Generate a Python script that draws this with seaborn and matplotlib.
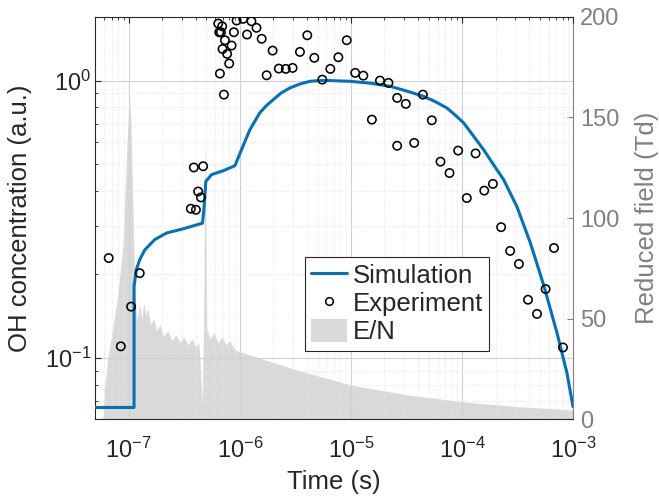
import numpy as np
import pandas as pd
import seaborn as sns
import matplotlib
matplotlib.use("Agg")
import matplotlib.pyplot as plt
from matplotlib.lines import Line2D
from matplotlib.patches import Patch
from matplotlib.ticker import LogLocator, NullFormatter

# ---------------- data ----------------
sim_t = [5.0e-8, 1.116e-7, 1.116e-7, 1.17e-7, 1.256e-7, 1.393e-7, 1.714e-7, 2.19e-7, 3.09e-7,
         4.61e-7, 4.74e-7, 4.94e-7, 5.56e-7, 7.08e-7, 9.02e-7, 1.035e-6, 1.23e-6, 1.51e-6,
         1.73e-6, 2.0e-6, 2.34e-6, 2.82e-6, 3.47e-6, 4.27e-6, 5.26e-6, 6.47e-6, 9.8e-6,
         1.48e-5, 2.24e-5, 3.13e-5, 4.48e-5, 5.71e-5, 7.27e-5, 8.65e-5, 1.03e-4, 1.256e-4,
         1.56e-4, 1.90e-4, 2.36e-4, 3.11e-4, 4.1e-4, 5.4e-4, 7.13e-4, 8.77e-4, 9.93e-4]
sim_c = [0.0662, 0.0662, 0.181, 0.208, 0.226, 0.245, 0.267, 0.282, 0.292,
         0.306, 0.342, 0.433, 0.458, 0.473, 0.493, 0.564, 0.665, 0.765,
         0.812, 0.854, 0.901, 0.941, 0.972, 0.994, 1.0, 1.0, 0.994,
         0.979, 0.954, 0.918, 0.878, 0.840, 0.797, 0.751, 0.704, 0.633,
         0.563, 0.4995, 0.439, 0.351, 0.260, 0.1834, 0.123, 0.088, 0.0667]

exp_t = [6.60e-8, 8.48e-8, 1.05e-7, 1.256e-7, 3.62e-7, 4.02e-7, 3.85e-7, 4.67e-7, 4.21e-7, 4.46e-7,
         6.38e-7, 6.93e-7, 6.52e-7, 6.75e-7, 7.33e-7, 8.42e-7, 6.98e-7, 7.68e-7, 8.01e-7, 6.61e-7,
         7.18e-7, 8.83e-7, 9.34e-7, 1.07e-6, 1.27e-6, 1.41e-6, 1.16e-6, 1.57e-6, 1.97e-6, 1.74e-6,
         2.24e-6, 2.59e-6, 2.98e-6, 3.47e-6, 4.04e-6, 4.67e-6, 5.51e-6, 6.51e-6, 7.69e-6, 9.15e-6,
         1.09e-5, 1.29e-5, 1.54e-5, 1.82e-5, 2.17e-5, 2.60e-5, 3.11e-5, 2.60e-5, 3.70e-5, 4.43e-5,
         5.33e-5, 6.38e-5, 7.69e-5, 9.2e-5, 1.32e-4, 1.10e-4, 1.58e-4, 1.89e-4, 2.24e-4, 2.70e-4,
         3.24e-4, 6.70e-4, 5.63e-4, 3.91e-4, 4.71e-4, 8.07e-4]
exp_c = [0.229, 0.110, 0.153, 0.202, 0.345, 0.342, 0.486, 0.491, 0.398, 0.379,
         1.606, 1.57, 1.494, 1.494, 1.398, 1.338, 1.30, 1.248, 1.152, 1.06,
         0.890, 1.494, 1.647, 1.670, 1.637, 1.55, 1.466, 1.415, 1.283, 1.045,
         1.105, 1.102, 1.111, 1.269, 1.457, 1.208, 1.008, 1.102, 1.214, 1.398,
         1.066, 1.042, 0.723, 1.0, 0.981, 0.866, 0.824, 0.582, 0.596, 0.890,
         0.719, 0.510, 0.464, 0.559, 0.546, 0.377, 0.401, 0.424, 0.296, 0.243,
         0.218, 0.249, 0.177, 0.162, 0.144, 0.109]

en_t = [5.0e-8, 5.5e-8, 5.87e-8, 6.08e-8, 6.51e-8, 7.23e-8, 8.01e-8, 8.88e-8, 9.2e-8, 9.69e-8,
        1.01e-7, 1.043e-7, 1.087e-7, 1.132e-7, 1.180e-7, 1.256e-7, 1.309e-7, 1.365e-7, 1.423e-7,
        1.483e-7, 1.578e-7, 1.679e-7, 1.786e-7, 1.900e-7, 2.065e-7, 2.244e-7, 2.439e-7, 2.651e-7,
        2.881e-7, 3.13e-7, 3.40e-7, 3.70e-7, 4.02e-7, 4.28e-7, 4.46e-7, 4.60e-7, 4.74e-7, 4.84e-7,
        4.94e-7, 5.05e-7, 5.37e-7, 5.84e-7, 6.34e-7, 6.89e-7, 7.48e-7, 8.13e-7, 9.02e-7,
        1.0e-6, 3.16e-6, 1.0e-5, 3.16e-5, 1.0e-4, 3.16e-4, 1.0e-3]
en_v = [0, 0, 1, 16, 31, 46, 63, 87, 109, 139,
        161, 149, 109, 64, 49, 57, 50, 58, 52,
        55, 47, 50, 44, 47, 41, 44, 39, 42,
        38, 41, 37, 40, 36, 38, 20, 8, 60, 140,
        90, 45, 40, 43, 38, 41, 37, 39, 34.4,
        33.5, 24.7, 17.0, 12.2, 8.7, 6.3, 4.6]

# ---------------- style ----------------
sns.set_theme(style="white")
plt.rcParams['font.family'] = ['Liberation Sans', 'DejaVu Sans']
plt.rcParams['mathtext.fontset'] = 'custom'
plt.rcParams['mathtext.rm'] = 'Liberation Sans'
plt.rcParams['mathtext.it'] = 'Liberation Sans:italic'
plt.rcParams['mathtext.bf'] = 'Liberation Sans:bold'

BLUE = '#0072BD'
GRAY = '#D9D9D9'
TXT = '#262626'
RGRAY = '#808080'
TICK_FS = 17
LABEL_FS = 18.5

fig = plt.figure(figsize=(6.59, 4.97), dpi=100)
ax = fig.add_axes([0.1446, 0.1563, 0.7254, 0.8101])
ax2 = ax.twinx()

# E/N fill on right axis (behind)
ax2.fill_between(en_t, 0, en_v, color=GRAY, linewidth=0)
ax2.set_ylim(0, 200)
ax2.set_yticks([0, 50, 100, 150, 200])
ax2.tick_params(axis='y', direction='in', length=4, colors=RGRAY, labelsize=TICK_FS, width=0.8, pad=5)
ax2.set_ylabel('Reduced field (Td)', color=RGRAY, fontsize=LABEL_FS, labelpad=11)
ax.set_zorder(ax2.get_zorder() + 1)
ax.patch.set_visible(False)

sim_df = pd.DataFrame({'t': sim_t, 'c': sim_c})
exp_df = pd.DataFrame({'t': exp_t, 'c': exp_c})
sns.lineplot(data=sim_df, x='t', y='c', ax=ax, sort=False, estimator=None,
             color=BLUE, linewidth=2.2, zorder=3)
sns.scatterplot(data=exp_df, x='t', y='c', ax=ax, marker='o', s=36,
                facecolor='none', edgecolor='black', linewidth=1.15, zorder=4)

ax.set_xscale('log')
ax.set_yscale('log')
ax.set_xlim(5e-8, 1e-3)
ax.set_ylim(0.06, 1.7)
ax.set_xticks([1e-7, 1e-6, 1e-5, 1e-4, 1e-3])
ax.set_yticks([1e-1, 1e0])
ax.xaxis.set_minor_locator(LogLocator(base=10, subs=np.arange(2, 10), numticks=20))
ax.yaxis.set_minor_locator(LogLocator(base=10, subs=np.arange(2, 10), numticks=20))
ax.xaxis.set_minor_formatter(NullFormatter())
ax.yaxis.set_minor_formatter(NullFormatter())

ax.grid(True, which='major', color='#D0D0D0', linewidth=0.8, linestyle='-')
ax.grid(True, which='minor', color='#E4E4E4', linewidth=0.7, linestyle=':')

ax.tick_params(axis='both', which='major', direction='in', length=4, width=0.8,
               colors=TXT, labelsize=TICK_FS, top=True)
ax.tick_params(axis='both', which='minor', direction='in', length=2.5, width=0.6,
               colors=TXT, top=True)
ax.tick_params(axis='x', which='major', pad=13)
ax.tick_params(axis='y', which='major', pad=3)
ax.set_xlabel('Time (s)', fontsize=LABEL_FS, color=TXT, labelpad=5)
ax.set_ylabel('OH concentration (a.u.)', fontsize=LABEL_FS, color=TXT, labelpad=9)

for s in ['left', 'bottom', 'top']:
    ax.spines[s].set_color(TXT)
    ax.spines[s].set_linewidth(0.8)
ax.spines['right'].set_visible(False)
for s in ['left', 'bottom', 'top']:
    ax2.spines[s].set_visible(False)
ax2.spines['right'].set_color(RGRAY)
ax2.spines['right'].set_linewidth(0.8)

handles = [Line2D([0], [0], color=BLUE, lw=2.2),
           Line2D([0], [0], marker='o', linestyle='none', markerfacecolor='none',
                  markeredgecolor='black', markersize=5.5, markeredgewidth=1.1),
           Patch(facecolor=GRAY, edgecolor='none')]
leg = ax.legend(handles, ['Simulation', 'Experiment', 'E/N'], loc='upper left',
                bbox_to_anchor=(0.4628, 0.4835), bbox_transform=fig.transFigure,
                fontsize=LABEL_FS, frameon=True, fancybox=False, framealpha=1,
                edgecolor='#262626', borderpad=0.25, labelspacing=0.1,
                handlelength=1.4, handleheight=1.0, handletextpad=0.2, borderaxespad=0)
leg.get_frame().set_linewidth(0.8)

fig.savefig('out.png', dpi=100)
